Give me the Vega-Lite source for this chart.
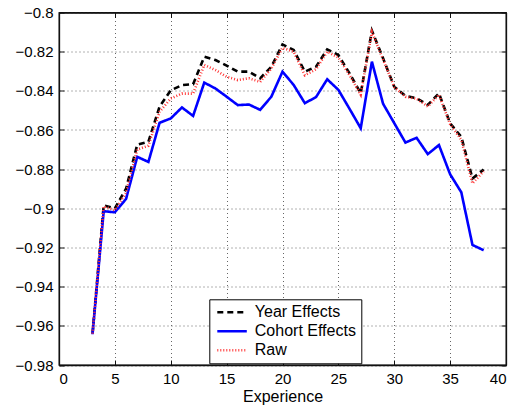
{
  "$schema": "https://vega.github.io/schema/vega-lite/v6.json",
  "width": 447,
  "height": 352.5,
  "autosize": {"type": "none"},
  "padding": {"left": 59, "top": 12.5, "right": 21, "bottom": 44},
  "background": "white",
  "config": {
    "font": "Liberation Sans",
    "view": {"stroke": "#111", "strokeWidth": 1.3},
    "axis": {
      "domainColor": "#111",
      "domainWidth": 1.3,
      "tickColor": "#111",
      "labelColor": "black",
      "titleColor": "black",
      "labelFontSize": 15,
      "titleFontSize": 16,
      "titleFontWeight": "normal",
      "gridColor": "#666",
      "gridDash": [1, 3],
      "gridOpacity": 1,
      "tickSize": -5
    }
  },
  "data": {
    "values": [
      {"x": 3, "y": -0.964, "s": "Year Effects"},
      {"x": 4, "y": -0.8985, "s": "Year Effects"},
      {"x": 5, "y": -0.9, "s": "Year Effects"},
      {"x": 6, "y": -0.89, "s": "Year Effects"},
      {"x": 7, "y": -0.8675, "s": "Year Effects"},
      {"x": 8, "y": -0.866, "s": "Year Effects"},
      {"x": 9, "y": -0.848, "s": "Year Effects"},
      {"x": 10, "y": -0.8397, "s": "Year Effects"},
      {"x": 11, "y": -0.8371, "s": "Year Effects"},
      {"x": 12, "y": -0.8366, "s": "Year Effects"},
      {"x": 13, "y": -0.8226, "s": "Year Effects"},
      {"x": 14, "y": -0.8243, "s": "Year Effects"},
      {"x": 15, "y": -0.8271, "s": "Year Effects"},
      {"x": 16, "y": -0.8302, "s": "Year Effects"},
      {"x": 17, "y": -0.8302, "s": "Year Effects"},
      {"x": 18, "y": -0.8336, "s": "Year Effects"},
      {"x": 19, "y": -0.8277, "s": "Year Effects"},
      {"x": 20, "y": -0.8163, "s": "Year Effects"},
      {"x": 21, "y": -0.8191, "s": "Year Effects"},
      {"x": 22, "y": -0.8302, "s": "Year Effects"},
      {"x": 23, "y": -0.8277, "s": "Year Effects"},
      {"x": 24, "y": -0.8188, "s": "Year Effects"},
      {"x": 25, "y": -0.8217, "s": "Year Effects"},
      {"x": 26, "y": -0.8311, "s": "Year Effects"},
      {"x": 27, "y": -0.8413, "s": "Year Effects"},
      {"x": 28, "y": -0.8093, "s": "Year Effects"},
      {"x": 29, "y": -0.8234, "s": "Year Effects"},
      {"x": 30, "y": -0.8379, "s": "Year Effects"},
      {"x": 31, "y": -0.8426, "s": "Year Effects"},
      {"x": 32, "y": -0.8438, "s": "Year Effects"},
      {"x": 33, "y": -0.8472, "s": "Year Effects"},
      {"x": 34, "y": -0.8413, "s": "Year Effects"},
      {"x": 35, "y": -0.8566, "s": "Year Effects"},
      {"x": 36, "y": -0.8635, "s": "Year Effects"},
      {"x": 37, "y": -0.8848, "s": "Year Effects"},
      {"x": 38, "y": -0.8802, "s": "Year Effects"},
      {"x": 3, "y": -0.9643, "s": "Cohort Effects"},
      {"x": 4, "y": -0.9015, "s": "Cohort Effects"},
      {"x": 5, "y": -0.902, "s": "Cohort Effects"},
      {"x": 6, "y": -0.8952, "s": "Cohort Effects"},
      {"x": 7, "y": -0.8737, "s": "Cohort Effects"},
      {"x": 8, "y": -0.8763, "s": "Cohort Effects"},
      {"x": 9, "y": -0.8563, "s": "Cohort Effects"},
      {"x": 10, "y": -0.8541, "s": "Cohort Effects"},
      {"x": 11, "y": -0.8485, "s": "Cohort Effects"},
      {"x": 12, "y": -0.8528, "s": "Cohort Effects"},
      {"x": 13, "y": -0.8358, "s": "Cohort Effects"},
      {"x": 14, "y": -0.8388, "s": "Cohort Effects"},
      {"x": 15, "y": -0.843, "s": "Cohort Effects"},
      {"x": 16, "y": -0.8473, "s": "Cohort Effects"},
      {"x": 17, "y": -0.847, "s": "Cohort Effects"},
      {"x": 18, "y": -0.8497, "s": "Cohort Effects"},
      {"x": 19, "y": -0.843, "s": "Cohort Effects"},
      {"x": 20, "y": -0.8302, "s": "Cohort Effects"},
      {"x": 21, "y": -0.837, "s": "Cohort Effects"},
      {"x": 22, "y": -0.8463, "s": "Cohort Effects"},
      {"x": 23, "y": -0.8432, "s": "Cohort Effects"},
      {"x": 24, "y": -0.8341, "s": "Cohort Effects"},
      {"x": 25, "y": -0.8395, "s": "Cohort Effects"},
      {"x": 26, "y": -0.8492, "s": "Cohort Effects"},
      {"x": 27, "y": -0.8591, "s": "Cohort Effects"},
      {"x": 28, "y": -0.8251, "s": "Cohort Effects"},
      {"x": 29, "y": -0.8466, "s": "Cohort Effects"},
      {"x": 30, "y": -0.8565, "s": "Cohort Effects"},
      {"x": 31, "y": -0.8664, "s": "Cohort Effects"},
      {"x": 32, "y": -0.864, "s": "Cohort Effects"},
      {"x": 33, "y": -0.8723, "s": "Cohort Effects"},
      {"x": 34, "y": -0.8677, "s": "Cohort Effects"},
      {"x": 35, "y": -0.8826, "s": "Cohort Effects"},
      {"x": 36, "y": -0.8918, "s": "Cohort Effects"},
      {"x": 37, "y": -0.9187, "s": "Cohort Effects"},
      {"x": 38, "y": -0.9214, "s": "Cohort Effects"},
      {"x": 3, "y": -0.964, "s": "Raw"},
      {"x": 4, "y": -0.899, "s": "Raw"},
      {"x": 5, "y": -0.901, "s": "Raw"},
      {"x": 6, "y": -0.892, "s": "Raw"},
      {"x": 7, "y": -0.87, "s": "Raw"},
      {"x": 8, "y": -0.868, "s": "Raw"},
      {"x": 9, "y": -0.8507, "s": "Raw"},
      {"x": 10, "y": -0.8439, "s": "Raw"},
      {"x": 11, "y": -0.8414, "s": "Raw"},
      {"x": 12, "y": -0.8414, "s": "Raw"},
      {"x": 13, "y": -0.8268, "s": "Raw"},
      {"x": 14, "y": -0.8294, "s": "Raw"},
      {"x": 15, "y": -0.8328, "s": "Raw"},
      {"x": 16, "y": -0.8345, "s": "Raw"},
      {"x": 17, "y": -0.8336, "s": "Raw"},
      {"x": 18, "y": -0.8354, "s": "Raw"},
      {"x": 19, "y": -0.8286, "s": "Raw"},
      {"x": 20, "y": -0.818, "s": "Raw"},
      {"x": 21, "y": -0.82, "s": "Raw"},
      {"x": 22, "y": -0.832, "s": "Raw"},
      {"x": 23, "y": -0.829, "s": "Raw"},
      {"x": 24, "y": -0.82, "s": "Raw"},
      {"x": 25, "y": -0.823, "s": "Raw"},
      {"x": 26, "y": -0.832, "s": "Raw"},
      {"x": 27, "y": -0.842, "s": "Raw"},
      {"x": 28, "y": -0.81, "s": "Raw"},
      {"x": 29, "y": -0.824, "s": "Raw"},
      {"x": 30, "y": -0.838, "s": "Raw"},
      {"x": 31, "y": -0.843, "s": "Raw"},
      {"x": 32, "y": -0.844, "s": "Raw"},
      {"x": 33, "y": -0.848, "s": "Raw"},
      {"x": 34, "y": -0.842, "s": "Raw"},
      {"x": 35, "y": -0.857, "s": "Raw"},
      {"x": 36, "y": -0.865, "s": "Raw"},
      {"x": 37, "y": -0.8873, "s": "Raw"},
      {"x": 38, "y": -0.881, "s": "Raw"}
    ]
  },
  "layer": [
    {
      "mark": {"type": "line"},
      "encoding": {
        "x": {
          "field": "x", "type": "quantitative",
          "scale": {"domain": [0, 40], "nice": false, "zero": false},
          "axis": {"orient": "bottom", "values": [0, 5, 10, 15, 20, 25, 30, 35, 40], "format": "d", "title": "Experience", "labelPadding": 11, "titlePadding": 2, "grid": true}
        },
        "y": {
          "field": "y", "type": "quantitative",
          "scale": {"domain": [-0.98, -0.8], "nice": false, "zero": false},
          "axis": {"orient": "left", "values": [-0.98, -0.96, -0.94, -0.92, -0.9, -0.88, -0.86, -0.84, -0.82, -0.8], "format": "~g", "labelExpr": "replace(datum.label, /[-\u2212]/, '\u2212')", "title": null, "labelPadding": 11, "grid": true}
        },
        "color": {
          "field": "s", "type": "nominal",
          "scale": {"domain": ["Year Effects", "Cohort Effects", "Raw"], "range": ["#000000", "#0000ff", "#ff3333"]},
          "legend": {
            "orient": "none", "legendX": 150.3, "legendY": 286.8, "title": null,
            "strokeColor": "black", "fillColor": "white", "padding": 5,
            "symbolType": "M-1,0H4.9", "symbolSize": 100,
            "labelFontSize": 16, "labelOffset": 24.5, "rowPadding": 3, "labelColor": "black"
          }
        },
        "strokeDash": {
          "field": "s", "type": "nominal",
          "scale": {"domain": ["Year Effects", "Cohort Effects", "Raw"], "range": [[6, 4], [1, 0], [1, 2]]},
          "legend": null
        },
        "strokeWidth": {
          "field": "s", "type": "nominal",
          "scale": {"domain": ["Year Effects", "Cohort Effects", "Raw"], "range": [2.6, 2.6, 1.1]},
          "legend": null
        }
      }
    },
    {
      "mark": {"type": "point", "opacity": 0},
      "encoding": {
        "x": {
          "field": "x", "type": "quantitative",
          "axis": {"orient": "top", "values": [0, 5, 10, 15, 20, 25, 30, 35, 40], "labels": false, "title": null, "grid": false}
        },
        "y": {
          "field": "y", "type": "quantitative",
          "axis": {"orient": "right", "values": [-0.98, -0.96, -0.94, -0.92, -0.9, -0.88, -0.86, -0.84, -0.82, -0.8], "labels": false, "title": null, "grid": false}
        }
      }
    }
  ],
  "resolve": {"axis": {"x": "independent", "y": "independent"}}
}
